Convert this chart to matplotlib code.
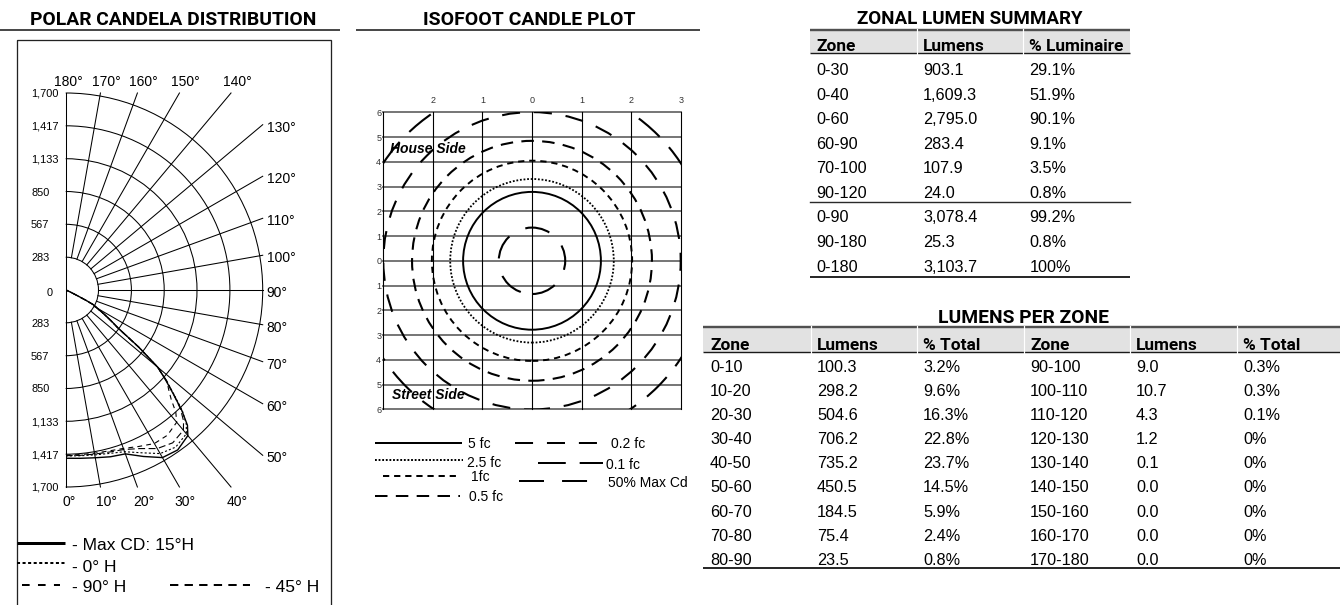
import numpy as np
import matplotlib
matplotlib.use("Agg")
import matplotlib.pyplot as plt
from matplotlib import font_manager
from matplotlib.patches import Arc, Ellipse, Rectangle

W, H = 1340, 605
DPI = 100
PX = 72.0 / DPI  # points per pixel

plt.rcParams["lines.scale_dashes"] = False

SANS = ["Liberation Sans", "DejaVu Sans"]

# ---- polar candela distribution: vertical angle (deg) vs candela ----
vert_angles = [0, 5, 10, 15, 20, 25, 30, 35, 40, 42, 44, 46, 48, 50, 52, 54, 56, 58, 60, 62, 63, 64, 66, 70, 80, 90]
cd_max_15h = [1452, 1458, 1470, 1490, 1505, 1585, 1670, 1685, 1640, 1570, 1440, 1290, 1160, 1040, 800, 561, 470, 390, 320, 275, 200, 120, 50, 15, 5, 2]
cd_0h = [1432, 1436, 1445, 1460, 1485, 1550, 1630, 1655, 1620, 1555, 1450, 1300, 1170, 1040, 800, 560, 465, 385, 315, 270, 195, 115, 48, 15, 5, 2]
cd_45h = [1430, 1432, 1438, 1448, 1465, 1510, 1580, 1610, 1580, 1520, 1425, 1295, 1170, 1030, 790, 555, 460, 380, 310, 265, 190, 110, 45, 14, 5, 2]
cd_90h = [1425, 1426, 1430, 1438, 1455, 1490, 1530, 1530, 1490, 1420, 1310, 1235, 1175, 1030, 790, 555, 460, 380, 310, 265, 190, 110, 45, 14, 5, 2]

ring_values = [283, 567, 850, 1133, 1417, 1700]
ring_labels = ["283", "567", "850", "1,133", "1,417", "1,700"]
spoke_angles = list(range(0, 190, 10))
CD_MAX = 1700

# ---- isofoot candle plot ----
iso_labels = ["5 fc", "2.5 fc", "1fc", "0.5 fc", "0.2 fc", "0.1 fc", "50% Max Cd"]
iso_radius = [1.39, 1.65, 2.02, 2.42, 3.0, 3.59, 0.67]   # in x grid units
grid_x = [-3, -2, -1, 0, 1, 2, 3]
grid_x_labels = ["", "2", "1", "0", "1", "2", "3"]
grid_y = list(range(6, -7, -1))
grid_y_labels = [str(abs(v)) for v in grid_y]

# ---- zonal lumen summary ----
zonal_zones = ["0-30", "0-40", "0-60", "60-90", "70-100", "90-120", "0-90", "90-180", "0-180"]
zonal_lumens = [903.1, 1609.3, 2795.0, 283.4, 107.9, 24.0, 3078.4, 25.3, 3103.7]
zonal_pct = [29.1, 51.9, 90.1, 9.1, 3.5, 0.8, 99.2, 0.8, 100]

# ---- lumens per zone ----
zone_labels = [f"{a}-{a + 10}" for a in range(0, 180, 10)]
zone_lumens = [100.3, 298.2, 504.6, 706.2, 735.2, 450.5, 184.5, 75.4, 23.5,
               9.0, 10.7, 4.3, 1.2, 0.1, 0.0, 0.0, 0.0, 0.0]
zone_pct = [3.2, 9.6, 16.3, 22.8, 23.7, 14.5, 5.9, 2.4, 0.8,
            0.3, 0.3, 0.1, 0, 0, 0, 0, 0, 0]


def fmt_pct(v):
    return f"{v:g}%" if v in (0, 100) else f"{v:.1f}%"


def fig_rect(x0, y0, x1, y1):
    return [x0 / W, 1 - y1 / H, (x1 - x0) / W, (y1 - y0) / H]


fig = plt.figure(figsize=(W / DPI, H / DPI), dpi=DPI)
renderer = fig.canvas.get_renderer()
bg = fig.add_axes([0, 0, 1, 1])
bg.set_xlim(0, W)
bg.set_ylim(H, 0)
bg.axis("off")

# the headings use a narrow bold face; take the narrowest one that is installed
_faces = {(f.name, str(f.stretch)) for f in font_manager.fontManager.ttflist}
_cands = []
if any(n == "Liberation Sans Narrow" for n, _ in _faces):
    _cands.append(dict(family=["Liberation Sans Narrow"]))
if any(n == "DejaVu Sans" and "condensed" in s for n, s in _faces):
    _cands.append(dict(family=["DejaVu Sans"], fontstretch="condensed"))
for _name in ["Lato", "Roboto", "Liberation Sans"]:
    if any(n == _name for n, _ in _faces):
        _cands.append(dict(family=[_name]))
if not _cands:
    _cands.append(dict(family=SANS))


def _bold_width(kw):
    t = bg.text(0, 0, "POLAR CANDELA DISTRIBUTION", fontsize=14.6, fontweight="bold", **kw)
    w = t.get_window_extent(renderer).width
    t.remove()
    return w


NARROW_KW = min(_cands, key=_bold_width)


def fitted_text(x, y, s, width, size, **kw):
    """Place text, shrinking the size if it runs wider than the width in pixels."""
    t = bg.text(x, y, s, fontsize=size, **kw)
    w = t.get_window_extent(renderer).width
    if w > width:
        t.set_fontsize(size * width / w)
    return t


TITLE = dict(fontweight="bold", va="baseline", ha="center", **NARROW_KW)
RULE = dict(color="#4a4a4a", lw=2 * PX, solid_capstyle="butt")

# ======================= polar panel =======================
fitted_text(173, 25, "POLAR CANDELA DISTRIBUTION", 285, 14.6, **TITLE)
bg.plot([0, 340], [30, 30], **RULE)
bg.add_patch(Rectangle((17, 40), 314, 600, fill=False, ec="#222222", lw=1.3 * PX))

ax_p = fig.add_axes(fig_rect(65.7, 93, 262.7, 487))
ax_p.set_xlim(0, CD_MAX)
ax_p.set_ylim(-CD_MAX, CD_MAX)
ax_p.axis("off")

grid_kw = dict(color="black", lw=0.75, clip_on=False)
for r in ring_values:
    ax_p.add_patch(Arc((0, 0), 2 * r, 2 * r, theta1=-90, theta2=90, **grid_kw))
ax_p.plot([0, 0], [-CD_MAX, CD_MAX], **grid_kw)

for a in spoke_angles:
    s, c = np.sin(np.radians(a)), -np.cos(np.radians(a))
    t = min(CD_MAX / abs(s) if abs(s) > 1e-9 else np.inf,
            CD_MAX / abs(c) if abs(c) > 1e-9 else np.inf)
    if 0 < a < 180:
        ax_p.plot([ring_values[0] * s, t * s], [ring_values[0] * c, t * c], **grid_kw)
    lab = f"{a}\u00b0"
    ex, ey = t * s, t * c
    if a <= 40:
        dx = 3 if a == 0 else 6
        ax_p.annotate(lab, (ex, ey), xytext=(dx, -14), textcoords="offset pixels",
                      ha="center", va="center_baseline", fontsize=10, family=SANS)
    elif a >= 140:
        dx = 3 if a == 180 else 6
        ax_p.annotate(lab, (ex, ey), xytext=(dx, 13), textcoords="offset pixels",
                      ha="center", va="center_baseline", fontsize=10, family=SANS)
    else:
        ax_p.annotate(lab, (ex, ey), xytext=(4, -1.5), textcoords="offset pixels",
                      ha="left", va="center_baseline", fontsize=10, family=SANS)

for v, lab in zip(ring_values, ring_labels):
    for sgn in (1, -1):
        ax_p.annotate(lab, (0, sgn * v), xytext=(-34.7, 0), textcoords="offset pixels",
                      ha="left", va="center_baseline", fontsize=7.9, family=SANS)
ax_p.annotate("0", (0, 0), xytext=(-15.7, -2), textcoords="offset pixels",
              ha="center", va="center_baseline", fontsize=7.9, family=SANS)

th = np.radians(vert_angles)
polar_series = [
    (cd_max_15h, "-", 1.0),
    (cd_0h, (0, (1.5, 1.5)), 0.8),
    (cd_90h, (0, (3.5, 3)), 0.8),
    (cd_45h, (0, (5, 2.5)), 0.8),
]
for vals, ls, lw in polar_series:
    r = np.asarray(vals, dtype=float)
    ax_p.plot(r * np.sin(th), -r * np.cos(th), color="black", ls=ls, lw=lw)

# polar legend
leg_font = dict(fontsize=12.5, family=SANS, va="baseline", ha="left")
bg.plot([17, 65], [543.3, 543.3], color="black", lw=3 * PX, solid_capstyle="butt")
bg.text(71.7, 550, "- Max CD: 15\u00b0H", **leg_font)
bg.plot([17, 65], [563.3, 563.3], color="black", lw=2 * PX, ls=(0, (2.2, 1.8)))
bg.text(71.7, 571.7, "- 0\u00b0 H", **leg_font)
bg.plot([21.7, 60], [585, 585], color="black", lw=2 * PX, ls=(0, (5.5, 6)))
bg.text(71.7, 591.7, "- 90\u00b0 H", **leg_font)
bg.plot([170, 250], [585, 585], color="black", lw=2 * PX, ls=(0, (6, 4.5)))
bg.text(265, 591.7, "- 45\u00b0 H", **leg_font)

# ======================= isofoot panel =======================
fitted_text(529, 25, "ISOFOOT CANDLE PLOT", 211, 14.6, **TITLE)
bg.plot([356, 700], [30, 30], **RULE)

ix0, iy0, ix1, iy1 = 383.3, 112.3, 680.7, 409.3
ax_i = fig.add_axes(fig_rect(ix0, iy0, ix1, iy1))
ax_i.set_xlim(grid_x[0], grid_x[-1])
ax_i.set_ylim(grid_y[-1], grid_y[0])
ax_i.axis("off")
k = ((ix1 - ix0) / (grid_x[-1] - grid_x[0])) / ((iy1 - iy0) / (grid_y[0] - grid_y[-1]))

for yv in grid_y:
    ax_i.plot([grid_x[0], grid_x[-1]], [yv, yv], color="#6a6a6a", lw=1.3, clip_on=False, zorder=1)
for xv in grid_x:
    ax_i.plot([xv, xv], [grid_y[-1], grid_y[0]], color="black", lw=0.8, clip_on=False, zorder=1)

iso_styles = ["-", (0, (1.3, 1.3)), (0, (4.5, 3.5)), (0, (9, 6)),
              (0, (13, 10)), (0, (20, 10)), (0, (18, 13))]
iso_lw = [1.4, 1.3, 1.4, 1.5, 1.5, 1.5, 1.5]
for r, ls, lw in zip(iso_radius, iso_styles, iso_lw):
    ax_i.add_patch(Ellipse((0, 0), 2 * r, 2 * r * k, fill=False, ec="black", ls=ls, lw=lw, zorder=2))

for xv, lab in zip(grid_x, grid_x_labels):
    ax_i.annotate(lab, (xv, grid_y[0]), xytext=(0, 13), textcoords="offset pixels",
                  ha="center", va="center_baseline", fontsize=6.5, family=SANS, color="#333333")
for yv, lab in zip(grid_y, grid_y_labels):
    ax_i.annotate(lab, (grid_x[0], yv), xytext=(-2, 0), textcoords="offset pixels",
                  ha="right", va="center_baseline", fontsize=6.5, family=SANS, color="#333333")

side_font = dict(fontsize=10, fontweight="bold", fontstyle="italic", family=SANS, va="baseline", ha="left")
bg.text(390, 153.3, "House Side", **side_font)
bg.text(391.7, 399.3, "Street Side", **side_font)

# isofoot legend
iso_leg = [
    (375, 461.7, 443.3, 468.3, 448.3),
    (375, 463, 460, 467.3, 466.7),
    (383, 460, 476, 470.7, 481.3),
    (375, 460, 495.7, 469, 500.7),
    (515, 600, 443.3, 611, 448.3),
    (538, 603, 463.3, 605.7, 469),
    (519, 605, 481.3, 607.5, 486.7),
]
for (x0, x1, ly, tx, ty), lab, ls in zip(iso_leg, iso_labels, iso_styles):
    bg.plot([x0, x1], [ly, ly], color="black", lw=2 * PX, ls=ls, solid_capstyle="butt")
    bg.text(tx, ty, lab, fontsize=10, family=SANS, va="baseline", ha="left")


# ======================= tables =======================
# header size chosen so that "% Luminaire" spans about 95 px
_probe = bg.text(0, 0, "% Luminaire", fontsize=12.8, fontweight="bold", **NARROW_KW)
HEAD_SIZE = min(12.8, 12.8 * 95 / _probe.get_window_extent(renderer).width)
_probe.remove()


def draw_table(x0, x1, col_x, bar_top, bar_bot, head_base, headers, rows, row_base0, row_dy,
               bottom_y, divider_after=None):
    bg.add_patch(Rectangle((x0, bar_top), x1 - x0, bar_bot - bar_top, fc="#e2e2e2", ec="none"))
    bg.plot([x0, x1], [bar_top, bar_top], color="#505050", lw=2.4 * PX, solid_capstyle="butt")
    bg.plot([x0, x1], [bar_bot, bar_bot], color="#1a1a1a", lw=1.4 * PX, solid_capstyle="butt")
    for cx in col_x[1:]:
        bg.plot([cx - 6.5, cx - 6.5], [bar_top - 1, bar_bot + 1], color="white", lw=1.2 * PX)
    for cx, h in zip(col_x, headers):
        bg.text(cx, head_base, h, fontsize=HEAD_SIZE, fontweight="bold",
                ha="left", va="baseline", **NARROW_KW)
    for i, row in enumerate(rows):
        yb = row_base0 + i * row_dy
        for cx, cell in zip(col_x, row):
            bg.text(cx, yb, cell, fontsize=11.7, family=SANS, ha="left", va="baseline")
    if divider_after is not None:
        yd = row_base0 + (divider_after - 1) * row_dy + 4
        bg.plot([x0, x1], [yd, yd], color="#2a2a2a", lw=1.4 * PX)
    bg.plot([x0, x1], [bottom_y, bottom_y], color="#2a2a2a", lw=2 * PX, solid_capstyle="butt")


fitted_text(970, 24, "ZONAL LUMEN SUMMARY", 225, 14.6, **TITLE)
zonal_rows = [[z, f"{l:,.1f}", fmt_pct(p)] for z, l, p in zip(zonal_zones, zonal_lumens, zonal_pct)]
draw_table(810, 1130, [816, 923, 1029.3], 29.5, 53.3, 50.7,
           ["Zone", "Lumens", "% Luminaire"], zonal_rows, 75, 24.58, 277, divider_after=6)

fitted_text(1023, 323.3, "LUMENS PER ZONE", 170, 14.6, **TITLE)
half = len(zone_labels) // 2
pz_rows = []
for i in range(half):
    j = i + half
    pz_rows.append([zone_labels[i], f"{zone_lumens[i]:.1f}", fmt_pct(zone_pct[i]),
                    zone_labels[j], f"{zone_lumens[j]:.1f}", fmt_pct(zone_pct[j])])
draw_table(703, 1340, [710, 817, 923, 1030, 1136, 1243], 326.7, 351.7, 349.5,
           ["Zone", "Lumens", "% Total", "Zone", "Lumens", "% Total"], pz_rows, 371.7, 24.16, 567.7)

fig.savefig("out.png", dpi=DPI)
